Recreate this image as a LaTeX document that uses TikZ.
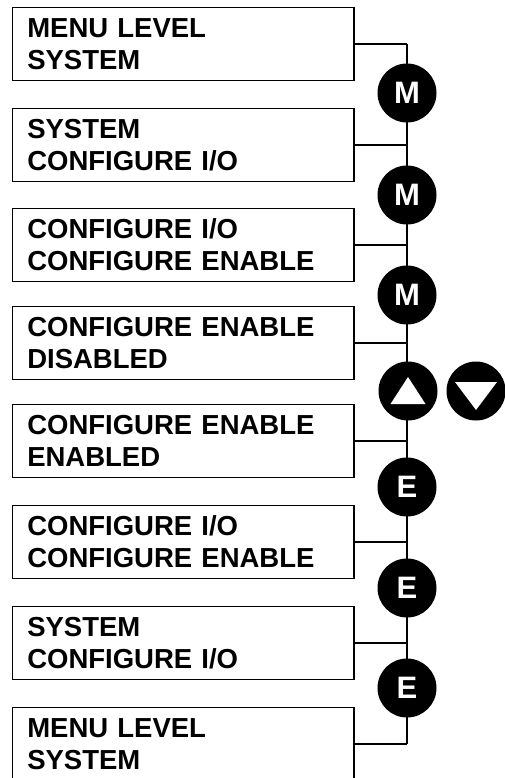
\documentclass[tikz,border=0pt]{standalone}
\usepackage{fontspec}
\setmainfont{Liberation Sans}
\usepackage{tikz}

\begin{document}
\begin{tikzpicture}[x=1pt, y=-1pt, line width=1.5pt,
  screen/.style={draw, minimum width=341.5pt, minimum height=73pt, text width=311.5pt,
    inner xsep=15pt, inner ysep=0pt, align=left, font=\bfseries\fontsize{27.5}{32}\selectfont},
  key/.style={circle, fill=black, minimum size=59pt, inner sep=0pt, text=white,
    font=\bfseries\fontsize{31}{31}\selectfont}]
  \useasboundingbox (0,0) rectangle (504,778);
  \foreach \i/\c/\txt in {1/44/{MENU LEVEL\\SYSTEM},
                          2/145/{SYSTEM\\CONFIGURE I/O},
                          3/245/{CONFIGURE I/O\\CONFIGURE ENABLE},
                          4/343/{CONFIGURE ENABLE\\DISABLED},
                          5/441/{CONFIGURE ENABLE\\ENABLED},
                          6/542/{CONFIGURE I/O\\CONFIGURE ENABLE},
                          7/643/{SYSTEM\\CONFIGURE I/O},
                          8/744/{MENU LEVEL\\SYSTEM}} {
    \node[screen] (b\i) at (183,\c) {\txt};
    \coordinate (t\i) at (407,\c);
    \draw (b\i.east) -- (t\i);
  }
  \draw (t1) -- (t8);
  \foreach \k/\y/\l in {m1/93/M, m2/195/M, m3/295/M, e1/487/E, e2/588/E, e3/688/E}
    \node[key] (\k) at (407,\y) {\l};
  \node[key] (up) at (408,391) {};
  \node[key] (down) at (476,391) {};
  \fill[white] ([yshift=14pt]up.center) -- ([xshift=-17.5pt,yshift=-13pt]up.center)
    -- ([xshift=17.5pt,yshift=-13pt]up.center) -- cycle;
  \fill[white] ([yshift=-19pt]down.center) -- ([xshift=-21pt,yshift=9pt]down.center)
    -- ([xshift=21pt,yshift=9pt]down.center) -- cycle;
\end{tikzpicture}
\end{document}
